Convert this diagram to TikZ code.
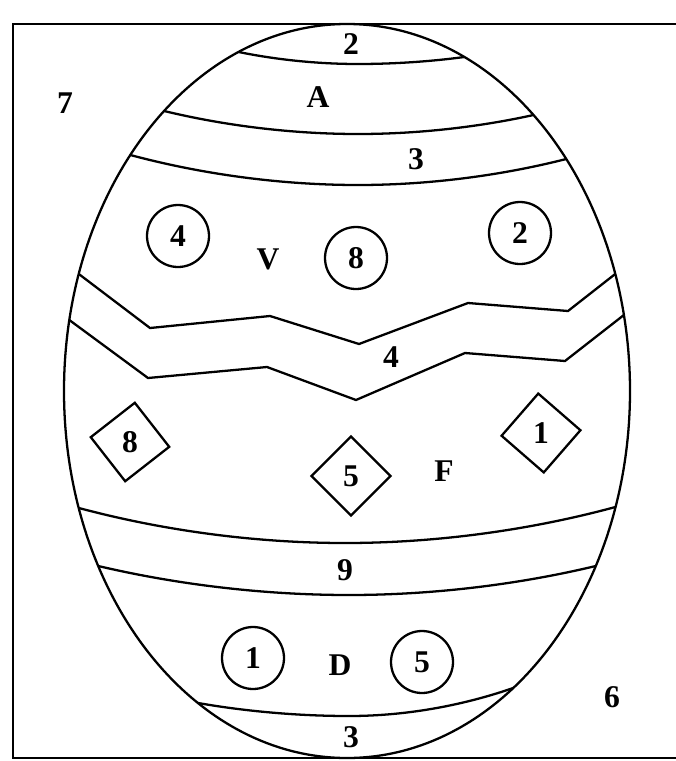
\documentclass[tikz,border=0pt]{standalone}
\usepackage{fontspec}
\setmainfont{Liberation Serif}
\usetikzlibrary{shapes.geometric}
\begin{document}
\begin{tikzpicture}[x=0.02cm,y=-0.02cm,
    lbl/.style={font=\bfseries\fontsize{18}{20}\selectfont,inner sep=0pt},
    ring/.style={draw,circle,line width=1.3pt,minimum size=1.24cm},
    gem/.style={draw,diamond,aspect=1,line width=1.3pt,minimum size=1.6cm,inner sep=0pt},
    band/.style={line width=1.3pt}]
  \clip (0,0) rectangle (676,761);
  \draw[line width=1.5pt] (690,24) -- (13,24) -- (13,758) -- (690,758);
  \draw[band] (347,391) ellipse [x radius=283,y radius=367];
  \foreach \xa/\ya/\xm/\ym/\xb/\yb in {238.6/52/358/64/464.3/57,
      164.1/111/358/134/533.5/115,130.3/155/358/185/566.3/159,
      78.8/508/345/543/615.5/507,98.2/566/349/595/595.8/566,
      198/703/349/716/513.2/688} {
    \draw[band] (\xa,\ya) parabola bend (\xm,\ym) (\xb,\yb);
  }
  \draw[band] (78.8,274) -- (150,328) -- (270,316) -- (359,344)
    -- (468,303) -- (568,311) -- (615.2,274);
  \draw[band] (69.3,320) -- (148,378) -- (267,367) -- (356,400)
    -- (465,353) -- (565,361) -- (623.9,315);
  \foreach \n/\x/\y in {4/178/236,8/356/258,2/520/233,1/253/658,5/422/662} {
    \node[ring,lbl] (r\n) at (\x,\y) {\n};
  }
  \foreach \n/\x/\y/\r in {8/130/442/-7,5/351/476/0,1/541/433/4} {
    \node[gem,rotate=\r] (g\n) at (\x,\y) {};
    \node[lbl] (n\n) at (g\n) {\n};
  }
  \foreach \t/\x/\y [count=\k] in {2/351/44,A/318/97,7/65/103,3/416/159,
      V/268/259,4/391/357,F/444/471,9/345/570,D/340/665,6/612/697,3/351/737} {
    \node[lbl] (t\k) at (\x,\y) {\t};
  }
\end{tikzpicture}
\end{document}
